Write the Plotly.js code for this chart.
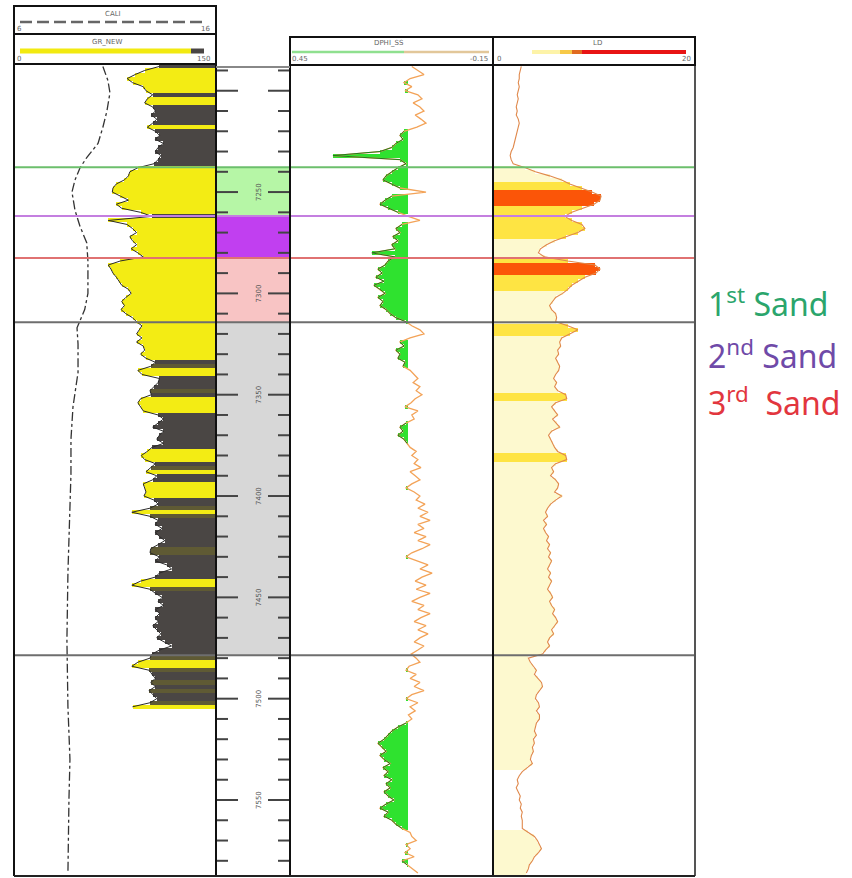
<!DOCTYPE html>
<html><head><meta charset="utf-8">
<script src="https://cdn.plot.ly/plotly-3.0.1.min.js"></script>
<style>html,body{margin:0;padding:0;background:#fff}#chart{width:852px;height:878px}</style>
</head><body><div id="chart"></div><script>
// ---------------- DATA ----------------
const DEPTH_TOP = 7188, DEPTH_STEP = 2;   // sampling grid of the log curves (ft)
const depthRange = [7587.5, 7187.3];

// Gamma ray (API), 7188 .. 7504 ft
const gr = [108,97,90,84,88,96,98,103,99,97,103,105,102,106,103,99,105,108,105,111,
107,105,109,107,104,92,86,85,82,76,73.5,73,79,85,76,80,94,102.5,70,84,
88,91,86,88,91,87,92,96,79,70,72,73.5,76,78,80,85,87,83,80,82,
79.5,83,88,91,95,93,91,95,91,96,97,94,98,105,101.5,92,95,108,107,104,
101,102,94,92,94,96,107,111,107,103,111,108,106,111,102.5,99,94.5,97,105,101.5,
98,106,103,96,97,98,96.5,104,107,101,87.5,101,107,105,110,105,108,112,107,101.5,
101,108,105,113.5,117,108,105,94,87.5,101,105,110,107,111,105,108,105,107,103,106,
109,106,112,117,108,102.5,101,92,87.5,100.5,102.5,105,101.5,105,100.3,103,106,101,88];

// Density porosity (v/v), 7188 .. 7586 ft
const dphi = [0.09,0.072,0.054,0.095,0.113,0.09,0.11,0.072,0.06,0.086,0.066,0.054,0.08,0.063,0.048,0.075,0.113,0.125,0.116,0.137,
0.149,0.184,0.323,0.125,0.107,0.131,0.149,0.166,0.175,0.149,0.125,0.048,0.149,0.169,0.184,0.16,0.131,0.1,0.066,0.119,
0.137,0.125,0.146,0.131,0.149,0.14,0.208,0.14,0.16,0.169,0.19,0.178,0.196,0.172,0.202,0.184,0.169,0.19,0.175,0.184,
0.166,0.154,0.137,0.107,0.09,0.066,0.054,0.095,0.125,0.113,0.137,0.125,0.131,0.11,0.116,0.095,0.083,0.072,0.086,0.066,
0.077,0.06,0.08,0.092,0.11,0.072,0.09,0.083,0.107,0.125,0.116,0.131,0.113,0.104,0.095,0.077,0.09,0.072,0.083,0.063,
0.095,0.08,0.066,0.09,0.107,0.083,0.066,0.077,0.051,0.072,0.042,0.066,0.036,0.072,0.054,0.083,0.048,0.072,0.036,0.06,
0.09,0.107,0.072,0.042,0.066,0.03,0.06,0.08,0.048,0.077,0.036,0.066,0.09,0.054,0.072,0.036,0.063,0.083,0.048,0.072,
0.042,0.066,0.083,0.054,0.072,0.092,0.077,0.066,0.098,0.107,0.077,0.095,0.066,0.083,0.054,0.09,0.107,0.072,0.095,0.08,
0.1,0.09,0.107,0.131,0.149,0.16,0.172,0.19,0.178,0.166,0.184,0.172,0.154,0.175,0.16,0.172,0.149,0.166,0.154,0.172,
0.16,0.143,0.166,0.184,0.16,0.172,0.149,0.137,0.119,0.095,0.09,0.077,0.107,0.095,0.11,0.083,0.119,0.104,0.09,0.072];

// Deep resistivity (ohm.m), 7188 .. 7586 ft
const ld = [2.8,2.7,2.6,2.6,2.5,2.6,2.5,2.4,2.5,2.4,2.3,2.4,2.3,2.5,2.6,2.5,2.4,2.3,2.2,2.1,
2.0,1.8,1.7,1.8,2.0,3.2,4.2,5.6,6.8,7.6,8.8,9.8,10.7,10.6,10.0,8.8,7.8,7.1,7.8,8.8,
9.1,8.4,7.2,6.1,5.3,4.7,4.5,5.1,7.4,10.1,10.6,10.2,9.1,8.4,7.8,7.4,6.9,6.2,5.9,5.6,
5.8,6.2,6.3,6.2,7.4,8.4,7.6,6.8,6.6,6.7,6.4,6.5,6.2,6.4,6.6,6.5,6.2,6.0,6.3,6.1,
6.4,7.2,7.3,6.2,5.8,6.1,6.4,5.9,6.3,6.6,5.8,5.5,5.7,5.9,6.1,6.4,7.2,7.3,6.2,5.8,
6.0,5.7,6.2,6.5,6.4,6.1,6.8,6.2,5.7,5.4,5.2,5.4,5.0,5.3,5.0,5.2,5.5,5.3,5.6,5.4,
5.7,5.5,5.8,5.6,5.4,5.7,5.5,5.8,5.6,5.4,5.7,5.9,5.6,5.8,6.1,5.9,6.2,6.4,6.1,5.8,
6.0,5.6,5.4,5.6,5.2,4.9,3.5,3.7,4.0,4.3,4.1,4.5,4.8,4.9,4.6,4.3,4.2,4.5,4.6,4.3,
4.6,4.6,4.3,4.2,4.1,4.3,4.0,4.1,3.9,4.0,3.8,3.7,3.9,3.4,2.9,2.6,2.4,2.5,2.3,2.5,
2.7,2.6,2.8,2.7,2.9,2.8,2.9,2.9,2.9,3.5,4.1,4.4,4.6,4.8,4.5,4.1,3.9,3.6,3.5,3.3];

// Caliper (in)
const caliDepth = [7188,7195,7201,7210,7218,7226,7233,7238,7244,7250,7259,7267,7275,7284,7292,7300,7308,7317,7325,7339,7356,7372,7389,7405,7438,7471,7504,7530,7550,7586];
const cali = [10.4,10.65,10.75,10.6,10.4,10.16,9.6,9.27,9.02,8.87,9.02,9.27,9.6,9.66,9.66,9.66,9.5,9.12,9.17,9.17,8.92,8.82,8.82,8.77,8.67,8.62,8.67,8.77,8.72,8.67];

// Zone tops (ft) and styling
const zoneTops = [7237.7, 7261.8, 7282.5, 7314.3, 7478.6];
const zoneFill = ['#b6f6a6', '#c13ff0', '#f8c4c4', '#d7d7d7'];
const zoneLine = ['#6cbf6c', '#c47fe0', '#e07272', '#6e6e6e', '#6e6e6e'];
const sandLabels = ['1<sup>st</sup> Sand', '2<sup>nd</sup> Sand', '3<sup>rd</sup>\u00a0 Sand'];
const sandColors = ['#2ba56c', '#6f4aa8', '#e2363e'];
const depthLabels = [7250, 7300, 7350, 7400, 7450, 7500, 7550];
const TICK_MINOR = 10, TICK_MAJOR = 50, TICK_FIRST = 7190, TICK_LAST = 7580;

// Cut-offs used for shading
const GR_MAX = 150, GR_CUT = 100, GR_OLIVE = 102;
const DPHI_CUT = 0.1;
const LD_WHITE = 3.0, LD_YEL = 7.0, LD_RED = 9.6;

// ---------------- LAYOUT HELPERS ----------------
const W = 852, H = 878;
const px = x => x / W, py = y => 1 - y / H;
function depthFor(n) { const d = []; for (let i = 0; i < n; i++) d.push(DEPTH_TOP + i * DEPTH_STEP); return d; }
const grD = depthFor(gr.length), dD = depthFor(dphi.length), lD = depthFor(ld.length);

const traces = [];
// GR shading
traces.push({type:'bar', orientation:'h', y:grD, x:gr.map(v => GR_MAX - v), base:gr, width:DEPTH_STEP,
  marker:{color:gr.map(v => v < GR_CUT ? '#f3ec14' : (v < GR_OLIVE ? '#5f5a34' : '#4a4644')), line:{width:0}},
  xaxis:'x', yaxis:'y', hoverinfo:'skip', showlegend:false});
traces.push({type:'scatter', mode:'lines', x:gr, y:grD, line:{color:'#2a2a2a', width:1}, xaxis:'x', yaxis:'y', showlegend:false});
// Caliper
traces.push({type:'scatter', mode:'lines', x:cali, y:caliDepth, line:{color:'#333', width:1.3, dash:'dashdot'}, xaxis:'x5', yaxis:'y', showlegend:false});
// DPHI
traces.push({type:'scatter', mode:'lines', x:dphi, y:dD, line:{color:'#f3a358', width:1.3}, xaxis:'x3', yaxis:'y', showlegend:false});
const dIdx = dphi.map((v, i) => i).filter(i => dphi[i] > DPHI_CUT);
traces.push({type:'bar', orientation:'h', y:dIdx.map(i => dD[i]), x:dIdx.map(i => dphi[i] - DPHI_CUT), base:DPHI_CUT, width:DEPTH_STEP,
  marker:{color:'#2fe22f', line:{width:0}}, xaxis:'x3', yaxis:'y', hoverinfo:'skip', showlegend:false});
traces.push({type:'scatter', mode:'lines', x:dphi.map(v => v > DPHI_CUT ? v : null), y:dD, connectgaps:false,
  line:{color:'#1d7a1d', width:1}, xaxis:'x3', yaxis:'y', showlegend:false});
// LD
traces.push({type:'bar', orientation:'h', y:lD, x:ld, base:0, width:DEPTH_STEP,
  marker:{color:ld.map(v => v < LD_WHITE ? 'rgba(0,0,0,0)' : v < LD_YEL ? '#fdf9cf' : v < LD_RED ? '#fee443' : '#fb5508'), line:{width:0}},
  xaxis:'x4', yaxis:'y', hoverinfo:'skip', showlegend:false});
traces.push({type:'scatter', mode:'lines', x:ld, y:lD, line:{color:'#e0894c', width:1.1}, xaxis:'x4', yaxis:'y', showlegend:false});

const hidden = {showgrid:false, zeroline:false, showticklabels:false, ticks:'', showline:false, fixedrange:true};
const layout = {
  width:W, height:H, margin:{l:0, r:0, t:0, b:0},
  paper_bgcolor:'#fff', plot_bgcolor:'rgba(0,0,0,0)',
  barmode:'overlay', bargap:0, showlegend:false,
  xaxis:  Object.assign({domain:[px(14), px(216)], range:[0, GR_MAX], anchor:'y'}, hidden),
  xaxis3: Object.assign({domain:[px(290), px(493)], range:[0.45, -0.15], anchor:'y'}, hidden),
  xaxis4: Object.assign({domain:[px(493), px(695)], range:[0, 20], anchor:'y'}, hidden),
  xaxis5: Object.assign({overlaying:'x', range:[6, 16], anchor:'y'}, hidden),
  yaxis: Object.assign({domain:[py(876), py(65)], range:depthRange, anchor:'x'}, hidden),
  shapes:[], annotations:[]
};

// depth-track zone fills
for (let i = 0; i < zoneFill.length; i++) {
  layout.shapes.push({type:'rect', layer:'below', xref:'paper', yref:'y', x0:px(217), x1:px(289),
    y0:zoneTops[i], y1:zoneTops[i+1], fillcolor:zoneFill[i], line:{width:0}});
}
// depth ruler ticks (both sides of the depth track)
for (let d = TICK_FIRST; d <= TICK_LAST; d += TICK_MINOR) {
  const major = d % TICK_MAJOR === 0;
  const len = major ? 22 : 12;
  [[216, 216 + len], [290 - len, 290]].forEach(([a, b]) => layout.shapes.push({type:'line', xref:'paper', yref:'y',
    x0:px(a), x1:px(b), y0:d, y1:d, line:{color:'#444', width:2}}));
}
// zone lines across tracks
zoneTops.forEach((d, i) => layout.shapes.push({type:'line', xref:'paper', yref:'y', x0:px(14), x1:px(695), y0:d, y1:d,
  line:{color:zoneLine[i], width:2}}));

function L(x0, y0, x1, y1, color, width, dash) {
  layout.shapes.push({type:'line', xref:'paper', yref:'paper', x0:px(x0), x1:px(x1), y0:py(y0), y1:py(y1),
    line:{color:color, width:width, dash:dash || 'solid'}});
}
function R(x0, y0, x1, y1, color, width) {
  layout.shapes.push({type:'rect', xref:'paper', yref:'paper', x0:px(x0), x1:px(x1), y0:py(y0), y1:py(y1),
    line:{color:color, width:width}, fillcolor:'rgba(0,0,0,0)'});
}
function T(x, y, text, size, color, anchor) {
  layout.annotations.push({xref:'paper', yref:'paper', x:px(x), y:py(y), text:text, showarrow:false,
    xanchor:anchor || 'center', yanchor:'middle', font:{size:size, color:color, family:'DejaVu Sans'}});
}
// track borders
L(14, 64, 14, 876, '#111', 2);
L(216, 64, 216, 876, '#111', 2);
L(290, 64, 290, 876, '#111', 2);
L(493, 64, 493, 876, '#111', 2);
L(695, 64, 695, 876, '#555', 2);
L(14, 876, 695, 876, '#222', 2);
L(216, 67, 290, 67, '#888', 2);
// header boxes
R(14, 6, 216, 34, '#111', 2);
R(14, 34, 216, 64, '#111', 2);
R(290, 37, 493, 65, '#111', 2);
R(493, 37, 695, 65, '#111', 2);
// header decorations
L(20, 22, 206, 22, '#666', 2.5, '12px,5px');
L(20, 51, 191, 51, '#f2ea10', 5);
L(191, 51, 204, 51, '#4a4644', 5);
L(292, 52, 404, 52, '#8fe08f', 2.5);
L(404, 52, 489, 52, '#e2c79a', 2.5);
L(532, 52, 560, 52, '#fdf3a8', 4);
L(560, 52, 572, 52, '#f7c948', 4);
L(572, 52, 582, 52, '#e06a20', 4);
L(582, 52, 686, 52, '#e81414', 4);
T(113, 14, 'CALI', 7, '#666');
T(19, 29, '6', 7, '#666');
T(205, 29, '16', 7, '#666');
T(107, 42, 'GR_NEW', 7, '#666');
T(19, 59, '0', 7, '#666');
T(203, 59, '150', 7, '#666');
T(389, 43, 'DPHI_SS', 7, '#666');
T(300, 59, '0.45', 7, '#666');
T(479, 59, '-0.15', 7, '#666');
T(597, 43, 'LD', 7, '#666');
T(499, 59, '0', 7, '#666');
T(686, 59, '20', 7, '#666');
// depth labels
depthLabels.forEach(d => layout.annotations.push({xref:'paper', yref:'y', x:px(253), y:d, text:String(d), showarrow:false,
  textangle:-90, font:{size:7, color:'#555', family:'DejaVu Sans'}}));
// sand legend
const sandY = [302, 354, 401];
sandLabels.forEach((t, i) => layout.annotations.push({xref:'paper', yref:'paper', x:px(706), y:py(sandY[i]), text:t,
  showarrow:false, xanchor:'left', yanchor:'middle', font:{size:32, color:sandColors[i], family:'Noto Sans'}}));

Plotly.newPlot('chart', traces, layout, {staticPlot:true, displayModeBar:false}).then(gd => {
  // drop the empty placeholder <text> nodes Plotly leaves for hidden titles
  gd.querySelectorAll('text').forEach(t => { if (!t.textContent.trim()) t.remove(); });
});
</script></body></html>
